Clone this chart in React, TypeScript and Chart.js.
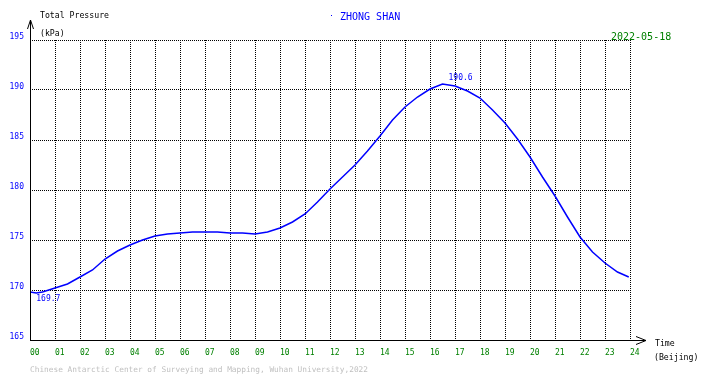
import React, { useEffect, useRef } from "react";
import { Chart, registerables } from "chart.js";

Chart.register(...registerables);

const hours = [
  0, 0.25, 0.5, 1, 1.5, 2, 2.5, 3, 3.5, 4, 4.5, 5, 5.5, 6, 6.5, 7, 7.5, 8, 8.5, 9, 9.5, 10,
  10.5, 11, 11.5, 12, 12.5, 13, 13.5, 14, 14.5, 15, 15.5, 16, 16.5, 17, 17.5, 18, 18.5, 19,
  19.5, 20, 20.5, 21, 21.5, 22, 22.5, 23, 23.5, 23.95,
];
const pressure = [
  169.8, 169.7, 169.8, 170.2, 170.6, 171.3, 172.0, 173.1, 173.9, 174.5, 175.0, 175.4, 175.6,
  175.7, 175.8, 175.8, 175.8, 175.7, 175.7, 175.6, 175.8, 176.2, 176.8, 177.6, 178.8, 180.1,
  181.3, 182.5, 183.9, 185.4, 187.0, 188.3, 189.3, 190.1, 190.6, 190.4, 189.9, 189.2, 188.0,
  186.7, 185.1, 183.3, 181.3, 179.4, 177.3, 175.3, 173.8, 172.7, 171.8, 171.3,
];
const yMin = 165;
const yMax = 195;
const yStep = 5;
const xMin = 0;
const xMax = 24;

const MONO = "'DejaVu Sans Mono', monospace";

const overlay = {
  id: "overlay",
  afterDraw(chart: any) {
    const ctx = chart.ctx as CanvasRenderingContext2D;
    const xs = chart.scales.x;
    const ys = chart.scales.y;
    const left = xs.getPixelForValue(xMin);
    const right = xs.getPixelForValue(xMax);
    const bottom = ys.getPixelForValue(yMin);
    const top = ys.getPixelForValue(yMax);
    ctx.save();
    // axes
    ctx.strokeStyle = "#000";
    ctx.lineWidth = 1;
    ctx.beginPath();
    ctx.moveTo(left + 0.5, bottom + 0.5);
    ctx.lineTo(left + 0.5, top - 20);
    ctx.moveTo(left - 2.5, top - 11);
    ctx.lineTo(left + 0.5, top - 20);
    ctx.lineTo(left + 3.5, top - 11);
    ctx.moveTo(left, bottom + 0.5);
    ctx.lineTo(right + 16, bottom + 0.5);
    ctx.moveTo(right + 6, bottom - 3.5);
    ctx.lineTo(right + 16, bottom + 0.5);
    ctx.lineTo(right + 6, bottom + 4.5);
    ctx.stroke();

    ctx.textBaseline = "middle";
    ctx.textAlign = "left";
    ctx.font = "8.2px " + MONO;
    ctx.fillStyle = "#000";
    ctx.fillText("Total Pressure", 40, 16);
    ctx.fillText("(kPa)", 40, 34);
    ctx.fillText("Time", 655, 344);
    ctx.fillText("(Beijing)", 654, 358);
    ctx.font = "7.8px " + MONO;
    ctx.fillStyle = "#c0c0c0";
    ctx.fillText(
      "Chinese Antarctic Center of Surveying and Mapping, Wuhan University,2022",
      30,
      370
    );
    ctx.font = "10px " + MONO;
    ctx.fillStyle = "#0000ff";
    ctx.fillRect(331, 15, 1, 1);
    ctx.fillText("ZHONG SHAN", 340, 17);
    ctx.fillStyle = "#008000";
    ctx.fillText("2022-05-18", 611, 37);

    // max / min annotations
    let iMax = 0;
    let iMin = 0;
    pressure.forEach((v, i) => {
      if (v > pressure[iMax]) iMax = i;
      if (v < pressure[iMin]) iMin = i;
    });
    ctx.font = "8px " + MONO;
    ctx.fillStyle = "#0000ff";
    const pxMax = xs.getPixelForValue(hours[iMax]);
    const pyMax = ys.getPixelForValue(pressure[iMax]);
    ctx.fillText(pressure[iMax].toFixed(1), pxMax + 6, pyMax - 6);
    const pxMin = xs.getPixelForValue(hours[iMin]);
    const pyMin = ys.getPixelForValue(pressure[iMin]);
    ctx.fillText(pressure[iMin].toFixed(1), pxMin, pyMin + 6);
    ctx.restore();
  },
};

export default function App() {
  const ref = useRef<HTMLCanvasElement>(null);
  useEffect(() => {
    document.body.style.margin = "0";
    const canvas = ref.current!;
    const chart = new Chart(canvas, {
      type: "line",
      data: {
        datasets: [
          {
            data: hours.map((h, i) => ({ x: h, y: pressure[i] })),
            borderColor: "#0000ff",
            borderWidth: 1.5,
            pointRadius: 0,
            tension: 0,
            fill: false,
          },
        ],
      },
      options: {
        animation: false,
        responsive: false,
        devicePixelRatio: 1,
        layout: { padding: { left: 0, top: 40, right: 80, bottom: 0 } },
        plugins: { legend: { display: false }, tooltip: { enabled: false } },
        scales: {
          x: {
            type: "linear",
            min: xMin,
            max: xMax,
            afterFit: (s: any) => {
              s.height = 38;
            },
            grid: { color: "#000", lineWidth: 1, drawTicks: false },
            border: { display: false, dash: [1, 1] },
            ticks: {
              stepSize: 1,
              align: "start",
              padding: 8,
              color: "#008000",
              font: { family: MONO, size: 8 },
              maxRotation: 0,
              autoSkip: false,
              callback: (v: any) => String(v).padStart(2, "0"),
            },
          },
          y: {
            type: "linear",
            min: yMin,
            max: yMax,
            afterFit: (s: any) => {
              s.width = 30;
            },
            grid: { color: "#000", lineWidth: 1, drawTicks: false },
            border: { display: false, dash: [1, 1] },
            ticks: {
              stepSize: yStep,
              padding: 6,
              labelOffset: -3,
              color: "#0000ff",
              font: { family: MONO, size: 8 },
            },
          },
        },
      },
      plugins: [overlay],
    });
    return () => chart.destroy();
  }, []);
  return (
    <div style={{ position: "absolute", left: 0, top: 0, width: 710, height: 378, background: "#fff" }}>
      <canvas ref={ref} width={710} height={378} />
    </div>
  );
}
